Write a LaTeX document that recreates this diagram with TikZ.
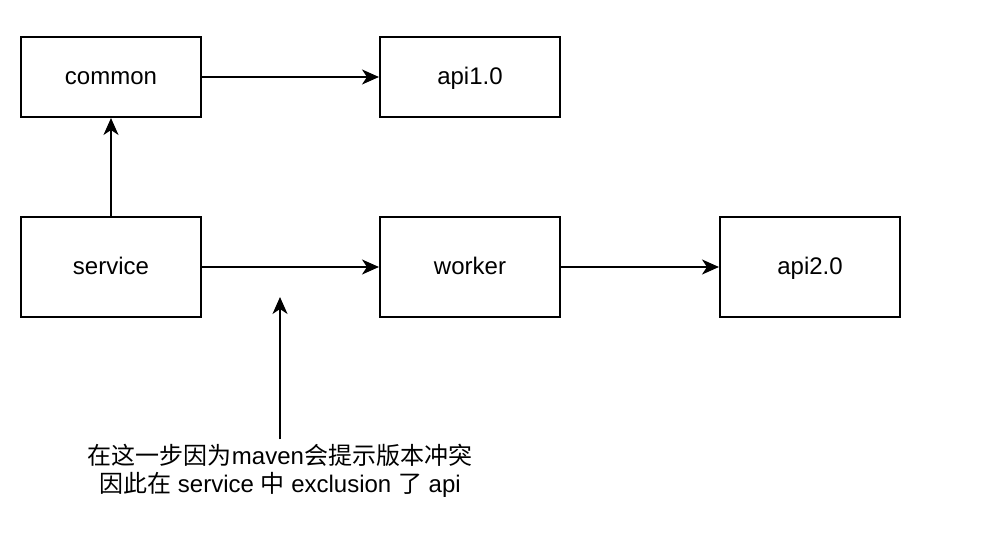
\documentclass[tikz,border=0pt]{standalone}
\usepackage{fontspec}
\setmainfont{Liberation Sans}
\newfontfamily\cjk{Noto Sans CJK SC}
\usepackage{tikz}
\usetikzlibrary{positioning}
\usetikzlibrary{arrows.meta}
\tikzset{
  modbox/.style = {rectangle, draw=black, line width=2pt, align=center,
    minimum width=180pt, text height=20pt, text depth=5pt,
    font=\fontsize{24}{28}\selectfont},
  mod_top/.style = {modbox, minimum height=80pt},% first row
  mod_bot/.style = {modbox, minimum height=100pt},% second row
  notetext/.style = {align=center, inner sep=0pt, outer sep=5pt,
    font=\fontsize{24}{28}\selectfont}% note under the arrow
}

\begin{document}
\begin{tikzpicture}[x=1pt,y=-1pt,line width=2pt,
  >={Stealth[length=17pt,width=15pt,inset=5pt]}]
\useasboundingbox (0,0) rectangle (982,556);
\node [mod_top] (common) at (111,77) {common};
\node [mod_top, right=177pt of common] (api1) {api1.0};
\node [mod_bot, below=98pt of common] (service) {service};
\node [mod_bot, right=177pt of service] (worker) {worker};
\node [mod_bot, right=158pt of worker] (api2) {api2.0};
\node [notetext] (note) at (280,471)
  {{\cjk 在这一步因为}maven{\cjk 会提示版本冲突}\\
   {\cjk 因此在} service {\cjk 中} exclusion {\cjk 了} api};
\coordinate (tip) at (280,297);

\draw [->] (common) -- (api1);
\draw [->] (service) -- (common);
\draw [->] (service) -- (worker);
\draw [->] (worker) -- (api2);
\draw [->] (note) -- (tip); % the step that clashes
\end{tikzpicture}
\end{document}
